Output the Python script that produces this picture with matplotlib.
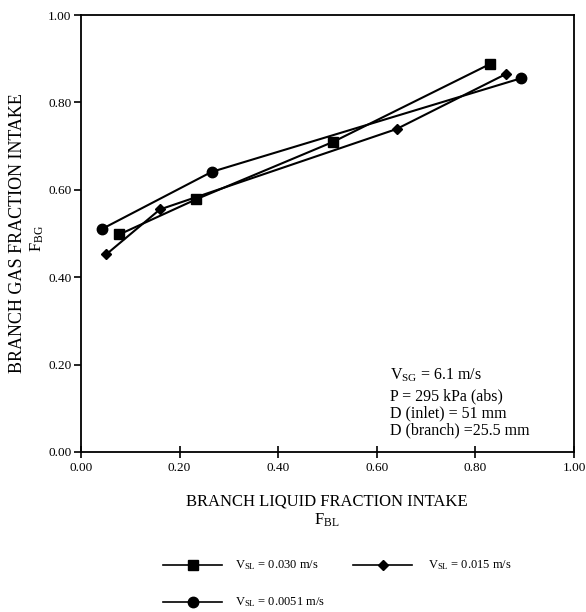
import matplotlib
matplotlib.use("Agg")
import matplotlib.pyplot as plt
from matplotlib.lines import Line2D

plt.rcParams['font.family'] = ['Liberation Serif', 'DejaVu Serif']
plt.rcParams['mathtext.fontset'] = 'custom'
plt.rcParams['mathtext.rm'] = 'Liberation Serif'
plt.rcParams['mathtext.it'] = 'Liberation Serif:italic'
plt.rcParams['mathtext.bf'] = 'Liberation Serif:bold'

# Data
sq_x = [0.078, 0.233, 0.512, 0.830]
sq_y = [0.498, 0.578, 0.710, 0.888]
di_x = [0.051, 0.160, 0.640, 0.862]
di_y = [0.452, 0.555, 0.739, 0.865]
ci_x = [0.042, 0.265, 0.892]
ci_y = [0.510, 0.641, 0.855]
ticks = [0.0, 0.2, 0.4, 0.6, 0.8, 1.0]
tick_labels = ["0.00", "0.20", "0.40", "0.60", "0.80", "1.00"]
series_labels = ["V$_{\\mathrm{SL}}$ = 0.030 m/s", "V$_{\\mathrm{SL}}$ = 0.015 m/s",
                 "V$_{\\mathrm{SL}}$ = 0.0051 m/s"]

fig = plt.figure(figsize=(5.86, 6.12), dpi=100)
ax = fig.add_axes([81/586, 1-452/612, (574-81)/586, (452-15)/612])

lw = 1.5
ax.plot(sq_x, sq_y, color='black', lw=lw, marker='s', ms=7)
ax.plot(di_x, di_y, color='black', lw=lw, marker='D', ms=5.5)
ax.plot(ci_x, ci_y, color='black', lw=lw, marker='o', ms=7.5)

ax.set_xlim(0, 1)
ax.set_ylim(0, 1)
ax.set_xticks(ticks)
ax.set_xticklabels(tick_labels)
ax.set_yticks(ticks)
ax.set_yticklabels(tick_labels)
ax.tick_params(axis='x', direction='inout', length=8, width=1.2, labelsize=9.5, pad=3)
ax.tick_params(axis='y', direction='out', length=5, width=1.2, labelsize=9.5, pad=2)
for s in ax.spines.values():
    s.set_linewidth(1.3)

# axis labels
fig.text(327/586, 1-502/612, "BRANCH LIQUID FRACTION INTAKE", ha='center', va='center', fontsize=12)
fig.text(327/586, 1-520/612, "F$_{\\mathrm{BL}}$", ha='center', va='center', fontsize=12)
fig.text(18/586, 1-233/612, "BRANCH GAS FRACTION INTAKE", ha='center', va='center',
         fontsize=13, rotation=90)
fig.text(37/586, 1-238/612, "F$_{\\mathrm{BG}}$", ha='center', va='center', fontsize=12, rotation=90)

# annotation
ann = ["V$_{\\mathrm{SG}}$ = 6.1 m/s", "P = 295 kPa (abs)", "D (inlet) = 51 mm", "D (branch) =25.5 mm"]
ann_y = [0.175, 0.128, 0.089, 0.050]
for t, yv in zip(ann, ann_y):
    ax.text(0.627, yv, t, ha='left', va='center', fontsize=11.5)

# legend (manual, figure coords)
def leg(x0, x1, y, marker, ms, label, tx):
    fy = 1 - y/612
    fig.add_artist(Line2D([x0/586, x1/586], [fy, fy], color='black', lw=1.2))
    fig.add_artist(Line2D([(x0+x1)/2/586], [fy], color='black', marker=marker, ms=ms, lw=0))
    fig.text(tx/586, fy, label, ha='left', va='center', fontsize=9)

leg(163, 222, 565, 's', 7, series_labels[0], 235)
leg(353, 412, 565, 'D', 5.5, series_labels[1], 428)
leg(163, 222, 602, 'o', 7.5, series_labels[2], 235)

fig.savefig("out.png", dpi=100)
